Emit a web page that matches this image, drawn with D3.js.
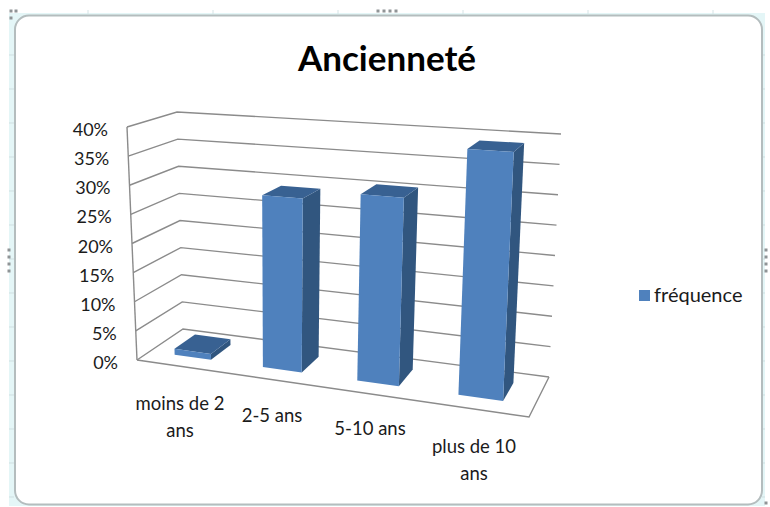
<!DOCTYPE html>
<html>
<head>
<meta charset="utf-8">
<script src="https://cdn.jsdelivr.net/npm/d3@7/dist/d3.min.js"></script>
<style>
html,body{margin:0;padding:0;background:#fff;}
svg{display:block;}
text{font-family:Lato,"Open Sans",sans-serif;fill:#1b1b1b;}
</style>
</head>
<body>
<svg id="chart" width="770" height="507"></svg>
<script>
const titleText = "Ancienneté";
const categories = ["moins de 2 ans", "2-5 ans", "5-10 ans", "plus de 10 ans"];
const categoryLines = [["moins de 2", "ans"], ["2-5 ans"], ["5-10 ans"], ["plus de 10", "ans"]];
const frequencies = [0.01, 0.29, 0.305, 0.39];
const seriesName = "fréquence";
const tickValues = [0, 0.05, 0.10, 0.15, 0.20, 0.25, 0.30, 0.35, 0.40];

const svg = d3.select("#chart");

// Spreadsheet surround and chart area
const sheet = svg.append("g");
sheet.append("rect").attr("x", 9).attr("y", 13).attr("width", 756).attr("height", 493).attr("fill", "#e4f6f7");
sheet.selectAll("line.row").data(d3.range(55, 500, 34)).join("line")
  .attr("x1", 9).attr("x2", 14).attr("y1", d => d).attr("y2", d => d).attr("stroke", "#cfdfe1");
sheet.selectAll("line.rowR").data(d3.range(55, 500, 34)).join("line")
  .attr("x1", 762).attr("x2", 765).attr("y1", d => d).attr("y2", d => d).attr("stroke", "#cfdfe1");
sheet.selectAll("line.col").data([88, 213, 338, 463, 588, 713]).join("line")
  .attr("x1", d => d).attr("x2", d => d).attr("y1", 10).attr("y2", 14).attr("stroke", "#d5e4e6");
sheet.append("rect").attr("x", 15).attr("y", 15.5).attr("width", 747).attr("height", 489).attr("rx", 14)
  .attr("fill", "#fff").attr("stroke", "#b4bdbe").attr("stroke-width", 2);

// Resize handles on the chart object
const handles = [[11,11],[16,11],[11,18],[766,503],
  [378,11],[384,11],[390,11],[396,11],
  [9,250],[9,257],[9,264],[9,271],
  [766,250],[766,257],[766,264],[766,271]];
sheet.selectAll("rect.handle").data(handles).join("rect")
  .attr("x", d => d[0] - 1.5).attr("y", d => d[1] - 1.5).attr("width", 3).attr("height", 3).attr("fill", "#8f9496");

// Projects a unit square onto a quad (corners: u0v0, u1v0, u1v1, u0v1)
function homography(q) {
  const [p0, p1, p2, p3] = q;
  const dx1 = p1[0] - p2[0], dx2 = p3[0] - p2[0], sx = p0[0] - p1[0] + p2[0] - p3[0];
  const dy1 = p1[1] - p2[1], dy2 = p3[1] - p2[1], sy = p0[1] - p1[1] + p2[1] - p3[1];
  const det = dx1 * dy2 - dx2 * dy1;
  const g = (sx * dy2 - dx2 * sy) / det, h = (dx1 * sy - sx * dy1) / det;
  const a = p1[0] - p0[0] + g * p1[0], b = p3[0] - p0[0] + h * p3[0], c = p0[0];
  const d = p1[1] - p0[1] + g * p1[1], e = p3[1] - p0[1] + h * p3[1], f = p0[1];
  return (u, v) => {
    const w = g * u + h * v + 1;
    return [(a * u + b * v + c) / w, (d * u + e * v + f) / w];
  };
}

const floor = homography([[137, 360], [529, 417], [549, 377], [183, 329]]);
const ceiling = homography([[127, 127], [541, 153], [561, 134], [177, 112]]);

const heightScale = d3.scaleLinear().domain([0, 0.4]).range([0, 1]);
const band = d3.scaleBand().domain(categories).range([0, 1]).paddingInner(0.58).paddingOuter(0.29);
const depth = d3.scaleLinear().domain([0, 1]).range([0.27, 0.73]);

function project(u, v, value) {
  const t = heightScale(value), a = floor(u, v), b = ceiling(u, v);
  return [a[0] + (b[0] - a[0]) * t, a[1] + (b[1] - a[1]) * t];
}
const line = d3.line();
const quad = pts => line(pts) + "Z";

// Walls and floor outline
const wallStroke = "#8b8b8b";
const walls = svg.append("g").attr("fill", "none").attr("stroke", wallStroke).attr("stroke-width", 1.4);
tickValues.forEach(t => {
  walls.append("path").attr("d", line([project(0, 0, t), project(0, 1, t), project(1, 1, t)]));
});
walls.append("path").attr("d", line([project(0, 0, 0.4), project(0, 0, 0)]));
walls.append("path").attr("d", line([project(0, 0, 0), project(1, 0, 0), project(1, 1, 0)]));

// Bars: side, top, then front face
const frontColor = "#4f81bd", sideColor = "#31567f", topColor = "#386192";
const bars = svg.append("g").selectAll("g").data(categories.map((c, i) => ({c, value: frequencies[i]}))).join("g");
bars.each(function(d) {
  const g = d3.select(this);
  const u0 = band(d.c), u1 = u0 + band.bandwidth(), v0 = depth(0), v1 = depth(1);
  g.append("path").attr("fill", sideColor)
    .attr("d", quad([project(u1, v0, 0), project(u1, v1, 0), project(u1, v1, d.value), project(u1, v0, d.value)]));
  g.append("path").attr("fill", topColor)
    .attr("d", quad([project(u0, v0, d.value), project(u1, v0, d.value), project(u1, v1, d.value), project(u0, v1, d.value)]));
  g.append("path").attr("fill", frontColor)
    .attr("d", quad([project(u0, v0, 0), project(u1, v0, 0), project(u1, v0, d.value), project(u0, v0, d.value)]));
});

// Value axis labels, set back from the front-left edge
const axisFormat = d3.format(".0%");
svg.append("g").selectAll("text").data(tickValues).join("text")
  .attr("text-anchor", "end").attr("font-size", 18)
  .attr("x", d => project(0, 0, d)[0] - 19)
  .attr("y", d => project(0, 0, d)[1] + 9)
  .text(d => axisFormat(d));

// Category labels sit below the front floor edge
const labelLayout = [[180, 410], [272, 422], [370, 435], [474, 453]];
const catG = svg.append("g").selectAll("text").data(categoryLines).join("text")
  .attr("text-anchor", "middle").attr("font-size", 18.5);
catG.each(function(lines, i) {
  d3.select(this).selectAll("tspan").data(lines).join("tspan")
    .attr("x", labelLayout[i][0])
    .attr("y", (_, k) => labelLayout[i][1] + k * 27)
    .text(t => t);
});

// Title
svg.append("text").attr("x", 387).attr("y", 71).attr("text-anchor", "middle")
  .attr("font-size", 35).attr("font-weight", 700).style("fill", "#000").text(titleText);

// Legend
svg.append("rect").attr("x", 639).attr("y", 290).attr("width", 11).attr("height", 11).attr("fill", frontColor);
svg.append("text").attr("x", 654).attr("y", 302).attr("font-size", 20).text(seriesName);
</script>
</body>
</html>
